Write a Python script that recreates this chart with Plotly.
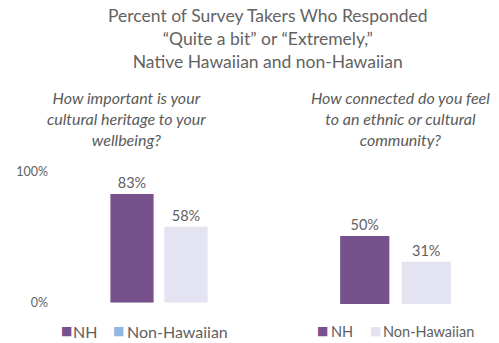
import plotly.graph_objects as go

# Survey results
groups = ["NH", "Non-Hawaiian"]
heritage_pct = [83, 58]      # "How important is your cultural heritage to your wellbeing?"
community_pct = [50, 31]     # "How connected do you feel to an ethnic or cultural community?"
tick_vals = [0, 100]
tick_text = ["0%", "100%"]

PURPLE = "#76518c"
LAVENDER = "#e3e3f1"
LEGEND_BLUE = "#8db9e3"
TEXT = "#5f5f5f"
FONT = "Lato"

W, H = 499, 343

def px_x(v):
    return v / W

def px_y(v):
    return 1 - v / H

fig = go.Figure()

# Left panel bars
fig.add_trace(go.Bar(
    x=groups, y=heritage_pct, xaxis="x", yaxis="y",
    marker=dict(color=[PURPLE, LAVENDER], line=dict(width=0)),
    texttemplate="%{y}%", textposition="outside", cliponaxis=False,
    textfont=dict(family=FONT, size=14.5, color=TEXT),
    showlegend=False, hoverinfo="skip",
))
# Right panel bars
fig.add_trace(go.Bar(
    x=groups, y=community_pct, xaxis="x2", yaxis="y2",
    marker=dict(color=[PURPLE, LAVENDER], line=dict(width=0)),
    texttemplate="%{y}%", textposition="outside", cliponaxis=False,
    textfont=dict(family=FONT, size=14.5, color=TEXT),
    showlegend=False, hoverinfo="skip",
))

hidden_x = dict(showgrid=False, zeroline=False, showline=False,
                showticklabels=False, ticks="", range=[-0.5, 1.5], fixedrange=True)

fig.update_layout(
    width=W, height=H,
    margin=dict(l=0, r=0, t=0, b=0, autoexpand=False),
    paper_bgcolor="white", plot_bgcolor="rgba(0,0,0,0)",
    font=dict(family=FONT, color=TEXT),
    showlegend=False,
    bargap=0.2,
    xaxis=dict(domain=[px_x(105), px_x(213)], **hidden_x),
    xaxis2=dict(domain=[px_x(334), px_x(457)], **hidden_x),
    yaxis=dict(domain=[px_y(302.7), px_y(171.7)], range=[0, 100],
               anchor="free", position=px_x(48),
               tickvals=tick_vals, ticktext=tick_text, ticks="",
               showgrid=False, zeroline=False, showline=False,
               tickfont=dict(family=FONT, size=12.5, color=TEXT)),
    yaxis2=dict(domain=[px_y(304), px_y(168)], range=[0, 100], anchor="x2",
                showgrid=False, zeroline=False, showline=False,
                showticklabels=False, ticks=""),
)

annotations = [
    dict(text="Percent of Survey Takers Who Responded<br>\u201cQuite a bit\u201d or \u201cExtremely,\u201d<br>Native Hawaiian and non-Hawaiian",
         x=px_x(268), y=px_y(3), xanchor="center", yanchor="top",
         font=dict(family=FONT, size=17.5, color="#636363")),
    dict(text="<i>How important is your<br>cultural heritage to your<br>wellbeing?</i>",
         x=px_x(127), y=px_y(86), xanchor="center", yanchor="top",
         font=dict(family=FONT, size=16, color="#5a5a5a")),
    dict(text="<i>How connected do you feel<br>to an ethnic or cultural<br>community?</i>",
         x=px_x(400), y=px_y(86), xanchor="center", yanchor="top",
         font=dict(family=FONT, size=16, color="#5a5a5a")),
]

# Legend keys under each panel: (swatch x, text x, label, swatch colour, font size)
legend_rows = [
    (59, 71, groups[0], PURPLE, 16),
    (111, 125, groups[1], LEGEND_BLUE, 16),
    (315, 329, groups[0], PURPLE, 14.5),
    (368, 381, groups[1], LAVENDER, 14.5),
]
for sx, tx, label, color, fs in legend_rows:
    annotations.append(dict(text="\u25A0", x=px_x(sx), y=px_y(331), xanchor="left", yanchor="middle",
                            font=dict(family="DejaVu Sans", size=12, color=color)))
    annotations.append(dict(text=label, x=px_x(tx), y=px_y(331), xanchor="left", yanchor="middle",
                            font=dict(family=FONT, size=fs, color=TEXT)))

for a in annotations:
    a.update(xref="paper", yref="paper", showarrow=False, align="center")
fig.update_layout(annotations=annotations)

fig.write_html("out.html")
